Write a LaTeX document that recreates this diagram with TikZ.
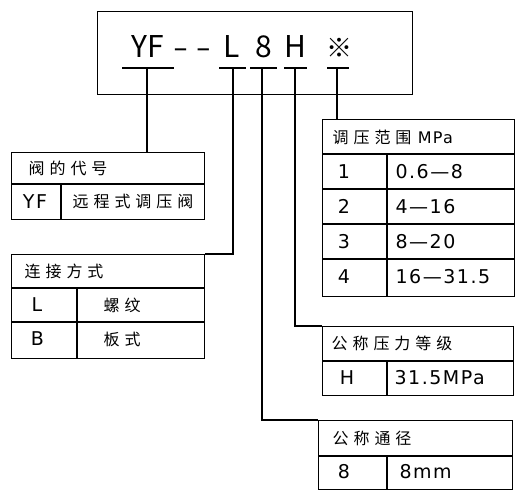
\documentclass[tikz,border=0pt]{standalone}
\usepackage{fontspec}
\setmainfont{DejaVu Sans}
\newfontfamily\cjk{Noto Sans CJK SC}
\newfontfamily\cjksp{Noto Sans CJK SC}[LetterSpace=31]
\newfontfamily\lat{DejaVu Sans}[LetterSpace=8]
\usetikzlibrary{positioning}

\begin{document}
\begin{tikzpicture}[x=1pt,y=-1pt,line width=1.2pt,
  tbl/.style={draw,anchor=north west,inner sep=0pt},
  hd/.style={anchor=west,inner sep=0pt,font=\cjksp\fontsize{16}{16}\selectfont},
  key/.style={inner sep=0pt,font=\lat\fontsize{19}{19}\selectfont},
  val/.style={anchor=west,inner sep=0pt,font=\lat\fontsize{19}{19}\selectfont},
  zh/.style={anchor=west,inner sep=0pt,font=\cjksp\fontsize{16}{16}\selectfont},
  code/.style={anchor=base,inner sep=0pt,font=\cjk\fontsize{30}{30}\selectfont}]
\useasboundingbox (0,0) rectangle (520,499);

% model code
\node[tbl,minimum width=315,minimum height=83] (top) at (97,11) {};
\node[code] (yf) at (148,57) {YF};
\node[code,font=\fontsize{28}{28}\selectfont] (dsh) at (192,57) {– –};
\node[code] (cL) at (232,57) {L};
\node[code] (c8) at (263.5,57) {8};
\node[code] (cH) at (295.5,57) {H};
\node[code,font=\cjk\fontsize{26}{26}\selectfont] (cX) at (339,57) {※};
\coordinate (uYF) at (147,68);
\coordinate (uL) at (233,68);
\coordinate (u8) at (262,68);
\coordinate (uH) at (295,68);
\coordinate (uX) at (337,68);
\draw (122,68) -- (174,68);
\draw (219,68) -- (246,68);
\draw (250,68) -- (277,68);
\draw (284,68) -- (307,68);
\draw (327,68) -- (349,68);

% valve code
\node[tbl,minimum width=193,minimum height=67] (t1) at (11,152) {};
\draw (11,184) -- (204,184) (61,184) -- (61,219);
\node[hd] (h1) at (28,168) {阀的代号};
\node[key] (k1) at (35,201.5) {YF};
\node[zh] (v1) at (72,201.5) {远程式调压阀};

% connection
\node[tbl,minimum width=193,minimum height=104] (t2) at (11,254) {};
\draw (11,288) -- (204,288) (11,322) -- (204,322) (77,288) -- (77,358);
\node[hd] (h2) at (24,271) {连接方式};
\node[key] (k2a) at (37,305) {L};
\node[zh] (v2a) at (103,305) {螺纹};
\node[key] (k2b) at (37.5,339) {B};
\node[zh] (v2b) at (103,339) {板式};

% pressure range
\node[tbl,minimum width=192,minimum height=177] (t3) at (322,119) {};
\draw (322,154) -- (514,154) (322,189) -- (514,189) (322,224) -- (514,224)
      (322,259) -- (514,259) (387,154) -- (387,296);
\node[hd] (h3) at (332,137) {调压范围{\fontsize{16}{16}\selectfont\lat\ MPa}};
\node[key] (k3a) at (344,171.5) {1};
\node[val] (v3a) at (395,171.5) {0.6—8};
\node[key] (k3b) at (344,206.5) {2};
\node[val] (v3b) at (395,206.5) {4—16};
\node[key] (k3c) at (344,241.5) {3};
\node[val] (v3c) at (395,241.5) {8—20};
\node[key] (k3d) at (344,277) {4};
\node[val] (v3d) at (395,277) {16—31.5};

% nominal pressure
\node[tbl,minimum width=191,minimum height=69] (t4) at (322,326) {};
\draw (322,361) -- (513,361) (387,361) -- (387,395);
\node[hd] (h4) at (331,343.5) {公称压力等级};
\node[key] (k4) at (347,378) {H};
\node[val] (v4) at (394,378) {31.5MPa};

% nominal size
\node[tbl,minimum width=194,minimum height=69] (t5) at (318,420) {};
\draw (318,456) -- (512,456) (387,456) -- (387,489);
\node[hd] (h5) at (332,438) {公称通径};
\node[key] (k5) at (344,472) {8};
\node[val] (v5) at (399,472) {8mm};

% leaders
\draw (uYF) -- (uYF |- t1.north);
\draw (uL) |- (t2.north east);
\draw (u8) |- (t5.north west);
\draw (uH) |- (t4.north west);
\draw (uX) -- (uX |- t3.north);
\end{tikzpicture}
\end{document}
